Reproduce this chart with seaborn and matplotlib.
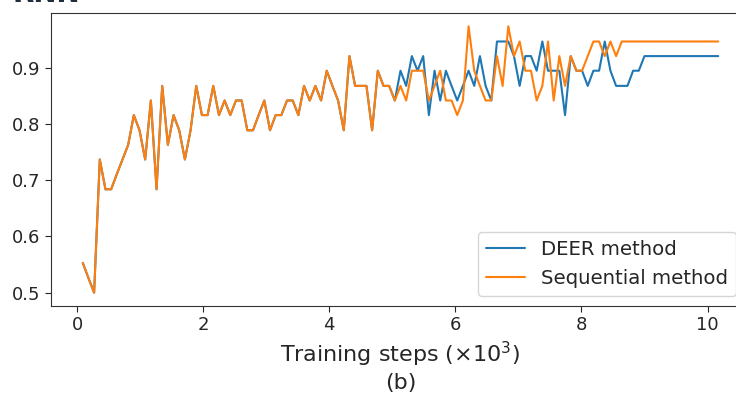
import numpy as np
import matplotlib
matplotlib.use("Agg")
import matplotlib.pyplot as plt
import seaborn as sns

sns.set_style("ticks")
plt.rcParams["font.family"] = ["DejaVu Sans"]

# evaluation every 90 training steps (x10^3 on the axis)
eval_every = 0.09

# accuracy where both methods coincide (first 56 evaluations)
shared = [0.553, 0.526, 0.500, 0.737, 0.684, 0.684, 0.711, 0.737, 0.763, 0.816,
          0.789, 0.737, 0.842, 0.684, 0.868, 0.763, 0.816, 0.789, 0.737, 0.789,
          0.868, 0.816, 0.816, 0.868, 0.816, 0.842, 0.816, 0.842, 0.842, 0.789,
          0.789, 0.816, 0.842, 0.789, 0.816, 0.816, 0.842, 0.842, 0.816, 0.868,
          0.842, 0.868, 0.842, 0.895, 0.868, 0.842, 0.789, 0.921, 0.868, 0.868,
          0.868, 0.789, 0.895, 0.868, 0.868, 0.842]

deer_tail = [0.895, 0.868, 0.921, 0.895, 0.921, 0.816, 0.895, 0.842, 0.895, 0.868,
             0.842, 0.868, 0.895, 0.868, 0.921, 0.868, 0.842, 0.947, 0.947, 0.947,
             0.921, 0.868, 0.921, 0.921, 0.895, 0.947, 0.895, 0.895, 0.895, 0.816,
             0.921, 0.895, 0.895, 0.868, 0.895, 0.895, 0.947, 0.895, 0.868, 0.868,
             0.868, 0.895, 0.895, 0.921, 0.921, 0.921, 0.921, 0.921, 0.921, 0.921,
             0.921, 0.921, 0.921, 0.921, 0.921, 0.921, 0.921]

seq_tail = [0.868, 0.842, 0.895, 0.895, 0.895, 0.842, 0.868, 0.895, 0.842, 0.842,
            0.816, 0.842, 0.974, 0.895, 0.868, 0.842, 0.842, 0.921, 0.868, 0.974,
            0.921, 0.947, 0.895, 0.895, 0.842, 0.868, 0.947, 0.842, 0.921, 0.868,
            0.921, 0.895, 0.895, 0.921, 0.947, 0.947, 0.921, 0.947, 0.921, 0.947,
            0.947, 0.947, 0.947, 0.947, 0.947, 0.947, 0.947, 0.947, 0.947, 0.947,
            0.947, 0.947, 0.947, 0.947, 0.947, 0.947, 0.947]

deer = shared + deer_tail
sequential = shared + seq_tail
steps = np.arange(1, len(deer) + 1) * eval_every

fig = plt.figure(figsize=(7.36, 3.95), dpi=100)
ax = fig.add_axes([51 / 736, 89 / 395, 699 / 736, 293 / 395])

sns.lineplot(x=steps, y=deer, color="#1f77b4", linewidth=1.5, label="DEER method", ax=ax)
sns.lineplot(x=steps, y=sequential, color="#ff7f0e", linewidth=1.5, label="Sequential method", ax=ax)

ax.set_xticks([0, 2, 4, 6, 8, 10])
ax.set_yticks([0.5, 0.6, 0.7, 0.8, 0.9])
ax.tick_params(labelsize=13, length=4, colors="#262626")
for s in ax.spines.values():
    s.set_color("#333333")
ax.set_xlabel("Training steps ($\\times10^3$)\n(b)", fontsize=16, linespacing=1.25)

ax.legend(loc="lower right", bbox_to_anchor=(1.0, 99 / 395), bbox_transform=fig.transFigure,
          borderaxespad=0, fontsize=14.2, frameon=True)

# panel title cut by the top edge, as in the source figure
fig.text(13 / 736, 1 - 2 / 395, "RNN", fontsize=20, fontweight="bold", color="#1f2d3d",
         va="baseline", ha="left")

fig.savefig("out.png", dpi=100)
